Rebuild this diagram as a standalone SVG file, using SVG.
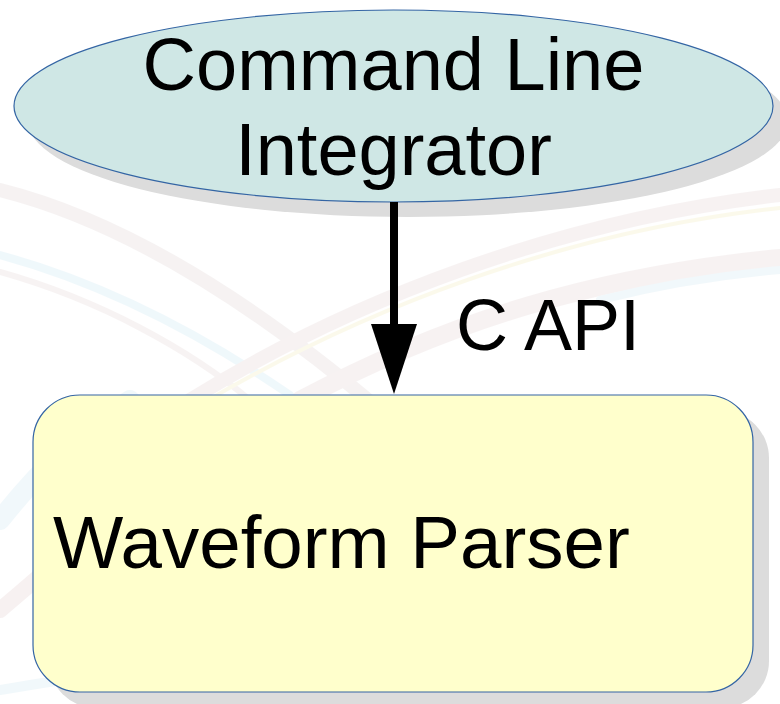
<svg xmlns="http://www.w3.org/2000/svg" width="780" height="704" viewBox="0 0 780 704">
<style>
.lbl{font-family:"Liberation Sans",Arial,sans-serif;font-size:74px;fill:#000}
.shadow{fill:#dcdcdc}
.bg{fill:none;stroke-linecap:round}
</style>
<defs>
<marker id="ah" markerUnits="userSpaceOnUse" markerWidth="72" markerHeight="46" refX="2" refY="23" orient="auto" viewBox="0 0 72 46">
<path d="M0,0 L70,23 L0,46 Z" fill="#000"/>
</marker>
</defs>
<rect width="780" height="704" fill="#fff"/>
<g id="background" opacity="0.35">
<path class="bg" d="M0,190 C120,220 250,300 380,410" stroke="#e6dcdc" stroke-width="14"/>
<path class="bg" d="M0,255 C110,285 210,340 290,395" stroke="#d4ecf6" stroke-width="8"/>
<path class="bg" d="M0,272 C100,300 190,350 250,400" stroke="#eadede" stroke-width="6"/>
<path class="bg" d="M0,520 C40,470 80,430 130,400" stroke="#d8ecf4" stroke-width="20"/>
<path class="bg" d="M0,610 C60,560 100,520 170,470" stroke="#ead8d8" stroke-width="16"/>
<path class="bg" d="M0,690 C60,680 120,670 200,660" stroke="#d8ecf4" stroke-width="10"/>
<path class="bg" d="M190,400 C350,300 560,220 780,195" stroke="#eadcdc" stroke-width="14"/>
<path class="bg" d="M200,405 C360,310 560,232 780,208" stroke="#f6f0c8" stroke-width="4"/>
<path class="bg" d="M300,400 C450,320 600,275 780,258" stroke="#eadcdc" stroke-width="18"/>
<path class="bg" d="M600,300 C660,285 720,275 780,270" stroke="#d8ecf4" stroke-width="8"/>
</g>
<g id="node-cli">
<ellipse class="shadow" cx="408" cy="121" rx="380" ry="96"/>
<ellipse cx="393.5" cy="106" rx="379.5" ry="96" fill="#cfe7e5" stroke="#3465a4" stroke-width="1.2"/>
<text class="lbl" x="393.5" y="90" text-anchor="middle">Command Line</text>
<text class="lbl" x="393.5" y="175" text-anchor="middle">Integrator</text>
</g>
<g id="node-parser">
<rect class="shadow" x="49" y="411" width="720" height="297" rx="47" ry="47"/>
<rect x="33" y="395" width="720" height="297" rx="47" ry="47" fill="#ffffcc" stroke="#3465a4" stroke-width="1.2"/>
<text class="lbl" x="53" y="568" style="font-size:74.5px">Waveform Parser</text>
</g>
<g id="connectors">
<line x1="394" y1="202" x2="394" y2="326" stroke="#000" stroke-width="8" marker-end="url(#ah)"/>
<text class="lbl" x="456" y="350" style="font-size:72px">C API</text>
</g>
</svg>
